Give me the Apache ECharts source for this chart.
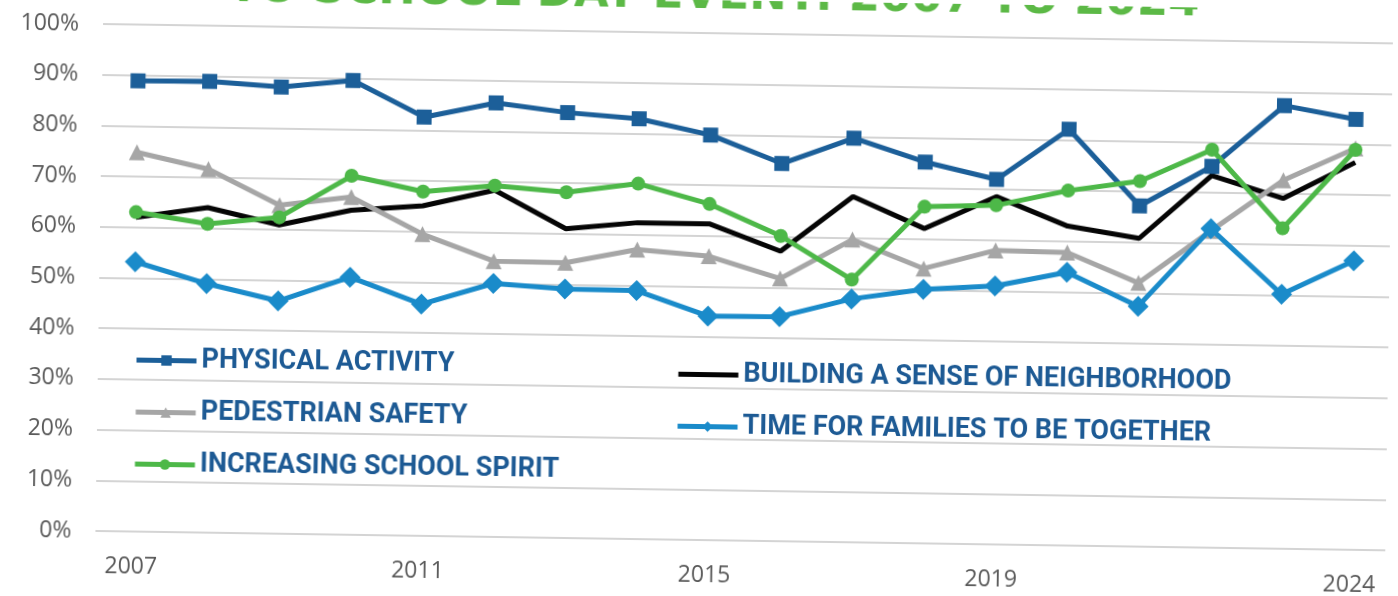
<!DOCTYPE html>
<html>
<head>
<meta charset="utf-8">
<script src="https://cdn.jsdelivr.net/npm/echarts@6/dist/echarts.min.js"></script>
<style>
  html, body { margin: 0; padding: 0; background: #ffffff; overflow: hidden; }
  #c { width: 1398px; height: 596px; transform: rotate(0.86deg); transform-origin: 50% 50%; background: #ffffff; }
</style>
</head>
<body>
<div id="c"></div>
<script>
// ---- data ----
const years = ['2007','2008','2009','2010','2011','2012','2013','2014','2015','2016','2017','2018','2019','2020','2021','2022','2023','2024'];
const shownYears = ['2007','2011','2015','2019','2024'];
const physicalActivity = [88.9, 89.0, 88.1, 89.6, 82.6, 85.6, 83.9, 82.9, 79.9, 74.5, 79.7, 75.2, 72.0, 82.1, 67.2, 75.2, 87.4, 84.9];
const neighborhood     = [62.0, 64.1, 60.9, 64.0, 65.1, 68.4, 61.0, 62.4, 62.4, 57.2, 68.2, 62.1, 68.6, 63.0, 60.8, 73.4, 69.1, 76.4];
const pedestrianSafety = [74.8, 71.7, 64.8, 66.6, 59.5, 54.4, 54.3, 57.1, 56.0, 51.8, 59.7, 54.2, 58.0, 57.8, 52.0, 62.5, 72.7, 79.2];
const schoolSpirit     = [63.0, 60.9, 62.4, 70.8, 67.9, 69.3, 68.2, 70.1, 66.3, 60.2, 51.8, 66.4, 66.9, 70.0, 72.1, 78.5, 63.2, 78.9];
const familiesTogether = [53.2, 49.1, 45.9, 50.8, 45.7, 50.0, 49.1, 49.0, 44.2, 44.3, 48.0, 50.1, 51.0, 53.9, 47.4, 62.9, 50.2, 57.0];
const yTicks = [0, 100, 10]; // min, max, interval
const titleText = 'TO SCHOOL DAY EVENT: 2007 TO 2024';
const names = ['PHYSICAL ACTIVITY', 'PEDESTRIAN SAFETY', 'INCREASING SCHOOL SPIRIT',
               'BUILDING A SENSE OF NEIGHBORHOOD', 'TIME FOR FAMILIES TO BE TOGETHER'];

const chart = echarts.init(document.getElementById('c'), null, { renderer: 'canvas' });
const axisFont = { fontFamily: 'Open Sans', fontSize: 23, color: '#595959' };
const legendText = { fontFamily: 'Roboto', fontWeight: 'bold', fontSize: 27, color: '#1d5a94', lineHeight: 26 };

function lineSeries(name, data, color, symbol, size, z) {
  return {
    name, type: 'line', data, z,
    symbol, symbolSize: size,
    lineStyle: { color, width: 5 },
    itemStyle: { color, borderWidth: 0 },
    emphasis: { disabled: true },
    animation: false
  };
}

const legendCommon = { orient: 'vertical', itemGap: 25, itemWidth: 60, itemHeight: 13,
  textStyle: legendText, selectedMode: false, lineStyle: { width: 5 } };

chart.setOption({
  backgroundColor: '#ffffff',
  animation: false,
  grid: { left: 99, right: 9, top: 33, bottom: 56, containLabel: false },
  graphic: [{
    type: 'text', x: 1195, y: 19, z: 100,
    style: { text: titleText, fontFamily: 'DejaVu Sans', fontWeight: 'bold', fontSize: 45,
             fill: '#5cb946', align: 'right', verticalAlign: 'bottom' }
  }],
  legend: [
    Object.assign({ left: 130, top: 350, data: [names[0], names[1], names[2]] }, legendCommon),
    Object.assign({ left: 672, top: 356,
      data: [{ name: names[3], itemStyle: { opacity: 0 } }, names[4]] }, legendCommon)
  ],
  xAxis: {
    type: 'category', data: years, boundaryGap: true,
    axisLine: { show: false }, axisTick: { show: false },
    axisLabel: Object.assign({ margin: 24, interval: (i, v) => shownYears.indexOf(v) >= 0 }, axisFont),
    splitLine: { show: false }
  },
  yAxis: {
    type: 'value', min: yTicks[0], max: yTicks[1], interval: yTicks[2],
    axisLine: { show: false }, axisTick: { show: false },
    axisLabel: Object.assign({ margin: 24, formatter: '{value}%' }, axisFont),
    splitLine: { lineStyle: { color: '#d4d4d4', width: 2 } }
  },
  series: [
    lineSeries(names[0], physicalActivity, '#1c5f99', 'rect', 15, 3),
    lineSeries(names[3], neighborhood, '#050505', 'none', 0, 2),
    lineSeries(names[1], pedestrianSafety, '#a6a6a6', 'triangle', 16, 2),
    lineSeries(names[2], schoolSpirit, '#4db848', 'circle', 14, 3),
    lineSeries(names[4], familiesTogether, '#1a8bca', 'diamond', 21, 4)
  ]
});
</script>
</body>
</html>
